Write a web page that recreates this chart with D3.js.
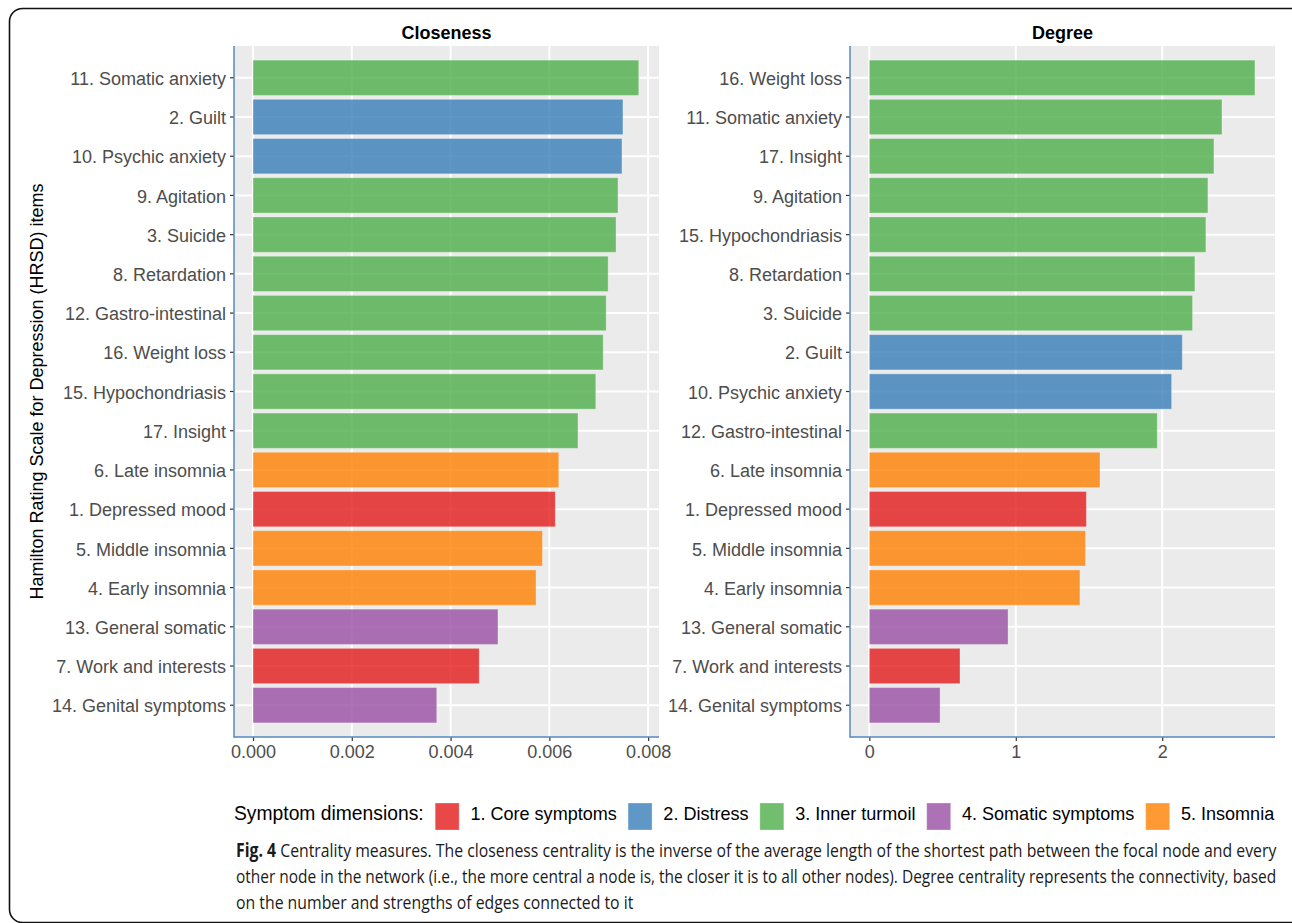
<!DOCTYPE html>
<html><head><meta charset="utf-8">
<script src="https://cdn.jsdelivr.net/npm/d3@7"></script>
<style>html,body{margin:0;padding:0;background:#fff;} svg{display:block;}</style>
</head><body>
<svg id="c" width="1292" height="923"></svg>
<script>
const items = ["1. Depressed mood","2. Guilt","3. Suicide","4. Early insomnia","5. Middle insomnia","6. Late insomnia","7. Work and interests","8. Retardation","9. Agitation","10. Psychic anxiety","11. Somatic anxiety","12. Gastro-intestinal","13. General somatic","14. Genital symptoms","15. Hypochondriasis","16. Weight loss","17. Insight"];
const itemDims = ["1. Core symptoms","2. Distress","3. Inner turmoil","5. Insomnia","5. Insomnia","5. Insomnia","1. Core symptoms","3. Inner turmoil","3. Inner turmoil","2. Distress","3. Inner turmoil","3. Inner turmoil","4. Somatic symptoms","4. Somatic symptoms","3. Inner turmoil","3. Inner turmoil","3. Inner turmoil"];
const closeness = [0.00612,0.00749,0.00735,0.00573,0.00586,0.00619,0.00458,0.00719,0.00739,0.00747,0.00781,0.00715,0.00496,0.00372,0.00694,0.00709,0.00658];
const degree = [1.482,2.137,2.207,1.438,1.476,1.575,0.619,2.223,2.312,2.064,2.408,1.966,0.947,0.483,2.298,2.633,2.353];
const dimensions = ["1. Core symptoms","2. Distress","3. Inner turmoil","4. Somatic symptoms","5. Insomnia"];
const dimColors = ["#E41A1C","#377EB8","#4DAF4A","#984EA3","#FF7F00"];
const closenessTicks = [0,0.002,0.004,0.006,0.008];
const degreeTicks = [0,1,2];
const panelTitles = ["Closeness","Degree"];
const yTitle = "Hamilton Rating Scale for Depression (HRSD) items";
const legendTitle = "Symptom dimensions:";
const captionLines = [
  ["Fig. 4", " Centrality measures. The closeness centrality is the inverse of the average length of the shortest path between the focal node and every"],
  ["", "other node in the network (i.e., the more central a node is, the closer it is to all other nodes). Degree centrality represents the connectivity, based"],
  ["", "on the number and strengths of edges connected to it"]
];

const svg = d3.select("#c");
const color = d3.scaleOrdinal().domain(dimensions).range(dimColors);
const font = "'Liberation Sans', Arial, Helvetica, sans-serif";

// frame
svg.append("rect").attr("x",9.5).attr("y",8.5).attr("width",1295).attr("height",914)
  .attr("rx",13).attr("fill","none").attr("stroke","#111").attr("stroke-width",1.6);

const pTop = 46, pBottom = 737;
const panels = [
  {title: panelTitles[0], vals: closeness, ticks: closenessTicks, x0: 234, x1: 659, dom:[-0.000385, 0.00822], fmt: d3.format(".3f")},
  {title: panelTitles[1], vals: degree, ticks: degreeTicks, x0: 850, x1: 1275, dom:[-0.132, 2.77], fmt: d3.format("d")}
];

panels.forEach(p => {
  const data = items.map((it,i)=>({item: it, dim: itemDims[i], v: p.vals[i]}))
    .sort((a,b)=>b.v-a.v);
  const x = d3.scaleLinear().domain(p.dom).range([p.x0, p.x1]);
  const y = d3.scaleBand().domain(data.map(d=>d.item)).range([pTop,pBottom]).paddingInner(0.1).paddingOuter(0.36).align(0.5);
  const g = svg.append("g");
  g.append("rect").attr("x",p.x0).attr("y",pTop).attr("width",p.x1-p.x0).attr("height",pBottom-pTop).attr("fill","#EBEBEB");
  // grid
  g.selectAll(".vg").data(p.ticks).join("line")
    .attr("x1",d=>x(d)).attr("x2",d=>x(d)).attr("y1",pTop).attr("y2",pBottom)
    .attr("stroke","#fff").attr("stroke-width",2);
  g.selectAll(".hg").data(data).join("line")
    .attr("x1",p.x0).attr("x2",p.x1).attr("y1",d=>y(d.item)+y.bandwidth()/2).attr("y2",d=>y(d.item)+y.bandwidth()/2)
    .attr("stroke","#fff").attr("stroke-width",2);
  // bars
  g.selectAll(".bar").data(data).join("rect")
    .attr("x",x(0)).attr("y",d=>y(d.item)).attr("width",d=>x(d.v)-x(0)).attr("height",y.bandwidth())
    .attr("fill",d=>color(d.dim)).attr("fill-opacity",0.8)
    .attr("stroke","#fff").attr("stroke-opacity",0.3).attr("stroke-width",1);
  // axes
  const ya = d3.axisLeft(y).tickSize(4).tickPadding(4);
  const yg = g.append("g").attr("transform",`translate(${p.x0},0)`).call(ya);
  yg.select(".domain").remove();
  yg.selectAll(".tick line").attr("stroke","#333").attr("stroke-width",1.2);
  yg.selectAll(".tick text").attr("fill","#4D4D4D").attr("dy","0.4em").style("font-family",font).style("font-size","18px");
  const xa = d3.axisBottom(x).tickValues(p.ticks).tickFormat(p.fmt).tickSize(4).tickPadding(4);
  const xg = g.append("g").attr("transform",`translate(0,${pBottom})`).call(xa);
  xg.select(".domain").remove();
  xg.selectAll(".tick line").attr("stroke","#333").attr("stroke-width",1.2);
  xg.selectAll(".tick text").attr("fill","#4D4D4D").style("font-family",font).style("font-size","18px");
  // axis lines
  g.append("line").attr("x1",p.x0).attr("x2",p.x0).attr("y1",pTop).attr("y2",pBottom+0.7).attr("stroke","#5588BE").attr("stroke-width",1.5);
  g.append("line").attr("x1",p.x0).attr("x2",p.x1).attr("y1",pBottom).attr("y2",pBottom).attr("stroke","#5588BE").attr("stroke-width",1.5);
  // title
  g.append("text").attr("x",(p.x0+p.x1)/2).attr("y",38.5).attr("text-anchor","middle")
    .style("font-family",font).style("font-size","18px").style("font-weight","bold").attr("fill","#000").text(p.title);
});

// y title
svg.append("text").attr("transform",`translate(43,${(pTop+pBottom)/2}) rotate(-90)`).attr("text-anchor","middle")
  .style("font-family",font).style("font-size","18px").attr("fill","#000").text(yTitle);

// legend
const lg = svg.append("g");
let lx = 234; const ly = 820;
const t0 = lg.append("text").attr("x",lx).attr("y",ly).style("font-family",font).style("font-size","19.3px").attr("fill","#000").text(legendTitle);
lx += t0.node().getComputedTextLength() + 11.5;
dimensions.forEach((d,i)=>{
  lg.append("rect").attr("x",lx).attr("y",803).attr("width",24).attr("height",27).attr("fill",color(d)).attr("fill-opacity",0.8)
    .attr("stroke","#fff").attr("stroke-opacity",0.3);
  lx += 24 + 11.3;
  const t = lg.append("text").attr("x",lx).attr("y",ly).style("font-family",font).style("font-size","18.05px").attr("fill","#000").text(d);
  lx += t.node().getComputedTextLength() + 11.3;
});

// caption (horizontally condensed via scale transform)
const cfont = "'Open Sans', 'Noto Sans', sans-serif";
const baselines = [857, 883, 909];
let ratio = 1;
captionLines.forEach((ln,i)=>{
  const cg = svg.append("g");
  const t = cg.append("text").attr("x",0).attr("y",baselines[i]).style("font-family",cfont).style("font-size","19px").attr("fill","#1a1a1a");
  if (ln[0]) t.append("tspan").style("font-weight","bold").text(ln[0]);
  t.append("tspan").text(ln[1]);
  const w = t.node().getComputedTextLength();
  const r = i<2 ? 1041 / w : ratio;
  if (i===0) ratio = r;
  cg.attr("transform",`translate(236,0) scale(${r},1)`);
});
</script>
</body></html>
